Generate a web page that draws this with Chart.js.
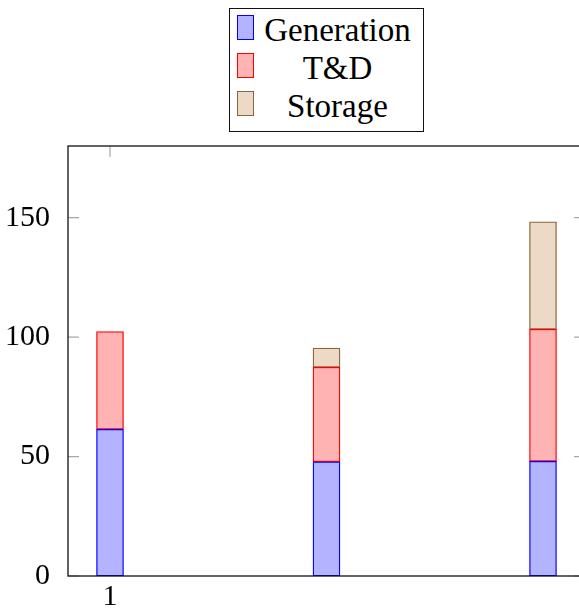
<!DOCTYPE html>
<html>
<head>
<meta charset="utf-8">
<script src="https://cdn.jsdelivr.net/npm/chart.js@4/dist/chart.umd.min.js"></script>
<style>
  html, body { margin: 0; padding: 0; background: #fff; }
  #wrap { position: relative; width: 579px; height: 610px; overflow: hidden; }
  #holder { position: absolute; left: 0; top: 0; width: 600px; height: 610px; }
  #legend {
    position: absolute; left: 229px; top: 8px; width: 195px; height: 124px;
    border: 1.3px solid #111; box-sizing: border-box; background: #fff;
    font-family: 'Liberation Serif', serif; font-size: 33px; color: #000;
  }
  .row { position: absolute; left: 0; width: 100%; height: 38px; }
  .sw { position: absolute; left: 7px; top: 0; width: 17px; height: 25px; box-sizing: border-box; border: 1.3px solid; }
  .lab { position: absolute; left: 30px; right: 8px; top: -4px; text-align: center; line-height: 38px; white-space: nowrap; }
</style>
</head>
<body>
<div id="wrap">
  <div id="holder"><canvas id="c" width="600" height="610"></canvas></div>
  <div id="legend"></div>
</div>
<script>
// Positions along the x axis and the stacked components at each position
const positions = [1, 2, 3];
const generation = [61.4, 47.8, 48.0];
const transmission = [40.9, 39.6, 55.3];
const storage = [null, 8.0, 45.0];

const seriesNames = ['Generation', 'T&D', 'Storage'];
const xTickValues = [1];
const yTickValues = [0, 50, 100, 150];

const fills = ['rgb(179,179,255)', 'rgb(255,179,179)', 'rgb(236,217,198)'];
const strokes = ['rgb(0,0,255)', 'rgb(255,0,0)', 'rgb(140,100,62)'];
const seriesValues = [generation, transmission, storage];

const datasets = seriesNames.map((name, i) => ({
  label: name,
  data: positions.map((x, j) => ({ x: x, y: seriesValues[i][j] })),
  backgroundColor: fills[i],
  borderColor: strokes[i],
  borderWidth: 1.3,
  borderSkipped: false,
  barThickness: 27
}));

// Inward tick marks on all four sides plus the closed frame around the plot
const frame = {
  id: 'frame',
  beforeDatasetsDraw(chart) {
    const { ctx, chartArea: a, scales } = chart;
    const len = 11;
    ctx.save();
    ctx.strokeStyle = '#a8a8a8';
    ctx.lineWidth = 1.2;
    ctx.beginPath();
    yTickValues.forEach(v => {
      const y = scales.y.getPixelForValue(v);
      ctx.moveTo(a.left, y); ctx.lineTo(a.left + len, y);
      ctx.moveTo(a.right, y); ctx.lineTo(a.right - len, y);
    });
    xTickValues.forEach(v => {
      const x = scales.x.getPixelForValue(v);
      ctx.moveTo(x, a.top); ctx.lineTo(x, a.top + len);
      ctx.moveTo(x, a.bottom); ctx.lineTo(x, a.bottom - len);
    });
    ctx.stroke();
    ctx.restore();
  },
  afterDatasetsDraw(chart) {
    const { ctx, chartArea: a } = chart;
    ctx.save();
    ctx.strokeStyle = '#111';
    ctx.lineWidth = 1.3;
    ctx.strokeRect(a.left, a.top, a.right - a.left, a.bottom - a.top);
    ctx.restore();
  }
};

const tickFont = { family: "'Liberation Serif', serif", size: 30 };

new Chart(document.getElementById('c'), {
  type: 'bar',
  data: { datasets },
  options: {
    responsive: false,
    animation: false,
    layout: { padding: { top: 146, right: 15, left: 0, bottom: 0 } },
    plugins: { legend: { display: false }, tooltip: { enabled: false } },
    scales: {
      x: {
        type: 'linear',
        stacked: true,
        offset: false,
        min: 0.806,
        max: 3.194,
        grid: { display: false, offset: false },
        border: { display: false },
        afterBuildTicks: s => { s.ticks = xTickValues.map(v => ({ value: v })); },
        afterFit: s => { s.height = 34; },
        ticks: { color: '#000', font: tickFont, padding: -5, maxRotation: 0, callback: v => String(v) }
      },
      y: {
        type: 'linear',
        stacked: true,
        min: 0,
        max: 180,
        grid: { display: false },
        border: { display: false },
        afterBuildTicks: s => { s.ticks = yTickValues.map(v => ({ value: v })); },
        afterFit: s => { s.width = 68; },
        ticks: { color: '#000', font: tickFont, padding: 10, callback: v => String(v) }
      }
    }
  },
  plugins: [frame]
});

// Legend box built from the same series names and colours
const legend = document.getElementById('legend');
seriesNames.forEach((name, i) => {
  const row = document.createElement('div');
  row.className = 'row';
  row.style.top = (6 + i * 38) + 'px';
  const sw = document.createElement('div');
  sw.className = 'sw';
  sw.style.background = fills[i];
  sw.style.borderColor = strokes[i];
  const lab = document.createElement('div');
  lab.className = 'lab';
  lab.textContent = name;
  row.appendChild(sw);
  row.appendChild(lab);
  legend.appendChild(row);
});
</script>
</body>
</html>
